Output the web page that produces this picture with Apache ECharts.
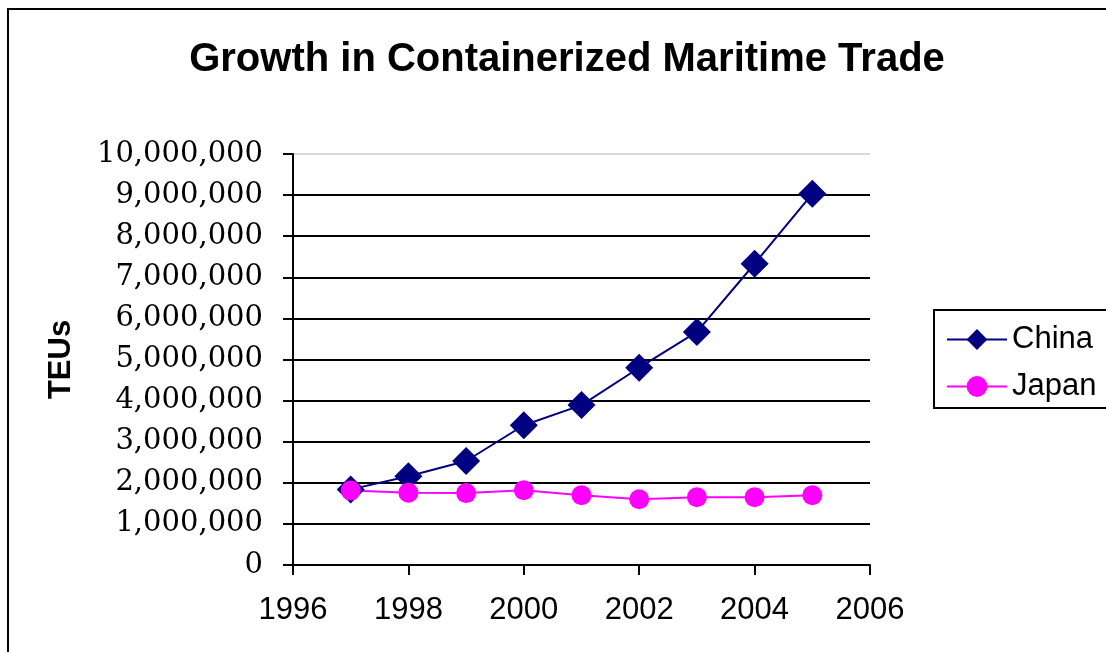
<!DOCTYPE html>
<html>
<head>
<meta charset="utf-8">
<title>Growth in Containerized Maritime Trade</title>
<script src="https://cdn.jsdelivr.net/npm/echarts@6/dist/echarts.min.js"></script>
<style>
  html, body { margin: 0; padding: 0; background: #fff; }
  #main { width: 1106px; height: 652px; }
</style>
</head>
<body>
<div id="main"></div>
<script>
// values
var years = [1997, 1998, 1999, 2000, 2001, 2002, 2003, 2004, 2005];
var china = [1840000, 2160000, 2530000, 3400000, 3890000, 4800000, 5670000, 7330000, 9030000];
var japan = [1810000, 1760000, 1750000, 1820000, 1700000, 1600000, 1650000, 1650000, 1700000];
var xTicks = [1996, 1998, 2000, 2002, 2004, 2006];
var yTicks = [0, 1000000, 2000000, 3000000, 4000000, 5000000, 6000000, 7000000, 8000000, 9000000, 10000000];

function pairs(vals) {
  return years.map(function (y, i) { return [y, vals[i]]; });
}

// last grid line (top) is drawn light
var gridColors = yTicks.map(function (v, i) { return i === yTicks.length - 1 ? '#d8d8d8' : '#000'; });

var chart = echarts.init(document.getElementById('main'));
chart.setOption({
  animation: false,
  title: {
    text: 'Growth in Containerized Maritime Trade',
    left: 562, top: 35, textAlign: 'center',
    textStyle: { fontFamily: 'Liberation Sans', fontWeight: 'bold', fontSize: 40, color: '#000' }
  },
  legend: {
    left: 934, top: 310,
    orient: 'vertical',
    padding: [14, 30, 6, 12],
    itemWidth: 60, itemHeight: 26, itemGap: 16,
    borderColor: '#000', borderWidth: 2,
    textStyle: { fontFamily: 'Liberation Sans', fontSize: 31, color: '#000' },
    data: ['China', 'Japan']
  },
  graphic: [{
    type: 'rect',
    shape: { x: 8, y: 9, width: 1130, height: 700 },
    style: { fill: 'none', stroke: '#000', lineWidth: 2 },
    silent: true
  }],
  grid: { left: 293, right: 236, top: 154, bottom: 87 },
  xAxis: {
    type: 'value',
    min: xTicks[0], max: xTicks[xTicks.length - 1], interval: 2,
    axisLine: { lineStyle: { color: '#000', width: 2 } },
    axisTick: { show: true, length: 10, lineStyle: { color: '#000', width: 2 } },
    axisLabel: {
      margin: 30, color: '#000', fontFamily: 'Liberation Sans', fontSize: 31,
      formatter: function (v) { return String(v); }
    },
    splitLine: { show: false }
  },
  yAxis: {
    type: 'value',
    min: yTicks[0], max: yTicks[yTicks.length - 1], interval: 1000000,
    name: 'TEUs', nameLocation: 'middle', nameRotate: 90, nameGap: 216,
    nameTextStyle: { fontFamily: 'Liberation Sans', fontWeight: 'bold', fontSize: 31, color: '#000' },
    axisLine: { show: true, lineStyle: { color: '#000', width: 2 } },
    axisTick: { show: true, length: 10, lineStyle: { color: '#000', width: 2 } },
    axisLabel: {
      margin: 30, color: '#000', fontFamily: 'DejaVu Serif', fontSize: 29,
      padding: [6, 0, 0, 0],
      formatter: function (v) { return echarts.format.addCommas(v); }
    },
    splitLine: { show: true, lineStyle: { color: gridColors, width: 2 } }
  },
  series: [{
    name: 'China',
    type: 'line',
    data: pairs(china),
    symbol: 'diamond', symbolSize: 28,
    lineStyle: { color: '#000080', width: 2 },
    itemStyle: { color: '#000080' }
  }, {
    name: 'Japan',
    type: 'line',
    data: pairs(japan),
    symbol: 'circle', symbolSize: 20,
    lineStyle: { color: '#ff00ff', width: 2 },
    itemStyle: { color: '#ff00ff' }
  }]
});
</script>
</body>
</html>
